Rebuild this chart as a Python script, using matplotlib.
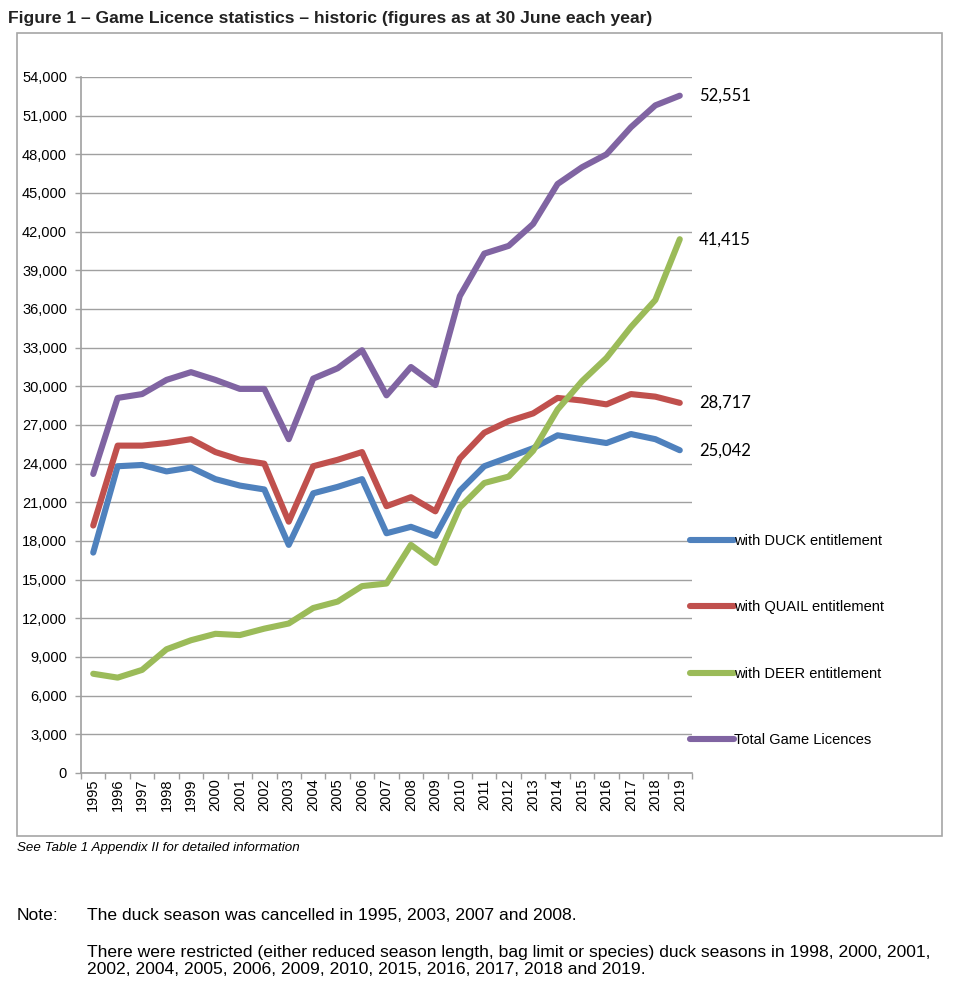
import matplotlib
matplotlib.use("Agg")
import matplotlib.pyplot as plt
from matplotlib.patches import Rectangle
from matplotlib.ticker import FuncFormatter, MultipleLocator, FixedLocator

years = [str(y) for y in range(1995, 2020)]
duck = [17100, 23800, 23900, 23400, 23700, 22800, 22300, 22000, 17700, 21700,
        22200, 22800, 18600, 19100, 18400, 21900, 23800, 24500, 25200, 26200,
        25900, 25600, 26300, 25900, 25042]
quail = [19200, 25400, 25400, 25600, 25900, 24900, 24300, 24000, 19500, 23800,
         24300, 24900, 20700, 21400, 20300, 24400, 26400, 27300, 27900, 29100,
         28900, 28600, 29400, 29200, 28717]
deer = [7700, 7400, 8000, 9600, 10300, 10800, 10700, 11200, 11600, 12800,
        13300, 14500, 14700, 17700, 16300, 20600, 22500, 23000, 25000, 28200,
        30400, 32200, 34600, 36700, 41415]
total = [23200, 29100, 29400, 30500, 31100, 30500, 29800, 29800, 25900, 30600,
         31400, 32800, 29300, 31500, 30100, 37000, 40300, 40900, 42600, 45700,
         47000, 48000, 50100, 51800, 52551]
series_names = ["with DUCK entitlement", "with QUAIL entitlement",
                "with DEER entitlement", "Total Game Licences"]
colors = ["#4F81BD", "#C0504D", "#9BBB59", "#8064A2"]

base = ["Liberation Sans", "DejaVu Sans"]
plt.rcParams['font.family'] = base

W, H = 956, 990
fig = plt.figure(figsize=(W / 100, H / 100), dpi=100)

def fx(px):
    return px / W

def fy(py):
    return 1 - py / H

# chart frame
fig.add_artist(Rectangle((fx(17), fy(836)), fx(942) - fx(17), fy(33) - fy(836),
                         transform=fig.transFigure, fill=False,
                         edgecolor="#A6A6A6", linewidth=1.2))

ax = fig.add_axes([fx(81), fy(773), fx(692) - fx(81), fy(77) - fy(773)])
x = list(range(len(years)))
for vals, name, c in zip([duck, quail, deer, total], series_names, colors):
    ax.plot(x, vals, color=c, linewidth=4.4, label=name,
            solid_capstyle="round", solid_joinstyle="round")

ax.set_xlim(-0.5, len(years) - 0.5)
ax.set_ylim(0, 54000)
ax.yaxis.set_major_locator(MultipleLocator(3000))
ax.yaxis.set_major_formatter(FuncFormatter(lambda v, p: f"{int(v):,}"))
ax.grid(axis="y", color="#A0A0A0", linewidth=1.0)
ax.set_axisbelow(True)
for s in ["top", "right"]:
    ax.spines[s].set_visible(False)
for s in ["left", "bottom"]:
    ax.spines[s].set_color("#A0A0A0")
    ax.spines[s].set_linewidth(1.2)

ax.set_xticks(x)
ax.set_xticklabels(years, rotation=90, fontsize=10.5)
ax.tick_params(axis="x", which="major", length=0, pad=4)
ax.xaxis.set_minor_locator(FixedLocator([i - 0.5 for i in range(len(years) + 1)]))
ax.tick_params(axis="x", which="minor", length=4, color="#A0A0A0", width=1)
ax.tick_params(axis="y", length=4, color="#A0A0A0", width=1, labelsize=10.5, pad=6)

# end labels
lab_font = ["Lato", "DejaVu Sans"]
for vals in [total, deer, quail, duck]:
    ax.annotate(f"{vals[-1]:,}", xy=(x[-1], vals[-1]), xytext=(14, 0),
                textcoords="offset points", va="center", ha="left",
                fontsize=12, family=lab_font, color="#000000",
                annotation_clip=False)

leg = ax.legend(loc="upper left", bbox_to_anchor=(fx(690), fy(534)),
                bbox_transform=fig.transFigure, frameon=False,
                fontsize=10.5, handlelength=3.0, handletextpad=0.05,
                labelspacing=3.6, borderpad=0, borderaxespad=0)

fig.text(fx(8), fy(18), "Figure 1 \u2013 Game Licence statistics \u2013 historic (figures as at 30 June each year)",
         fontsize=12.6, fontweight="bold", color="#222222", va="center", ha="left")
fig.text(fx(17), fy(848), "See Table 1 Appendix II for detailed information",
         fontsize=9.6, style="italic", va="center", ha="left")
note_fs = 12.6
fig.text(fx(17), fy(915), "Note:", fontsize=note_fs, va="center", ha="left")
fig.text(fx(87), fy(915), "The duck season was cancelled in 1995, 2003, 2007 and 2008.",
         fontsize=note_fs, va="center", ha="left")
fig.text(fx(87), fy(953), "There were restricted (either reduced season length, bag limit or species) duck seasons in 1998, 2000, 2001,",
         fontsize=note_fs, va="center", ha="left")
fig.text(fx(87), fy(970), "2002, 2004, 2005, 2006, 2009, 2010, 2015, 2016, 2017, 2018 and 2019.",
         fontsize=note_fs, va="center", ha="left")

fig.savefig("out.png", dpi=100, facecolor="white")
